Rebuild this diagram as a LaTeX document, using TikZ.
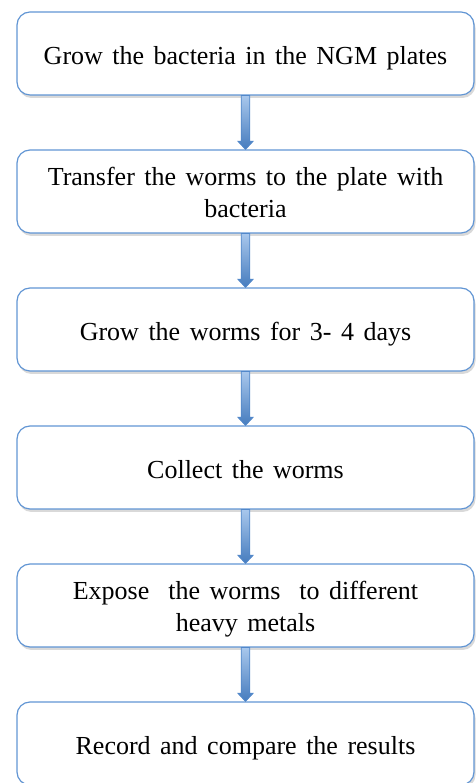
\documentclass[tikz,border=0pt]{standalone}
\usepackage{fontspec}
\setmainfont{Liberation Serif}
\usepackage{tikz}
\usetikzlibrary{calc,shadows}

\definecolor{boxblue}{RGB}{98,150,212}
\definecolor{arrowlight}{RGB}{168,199,236}
\definecolor{arrowdark}{RGB}{70,124,190}
\definecolor{arrowline}{RGB}{82,136,202}

\tikzset{
 stepbox/.style={draw=boxblue, line width=1.2pt, fill=white, rounded corners=13pt,
  minimum width=457pt, minimum height=83pt, text width=440pt, align=center,
  inner sep=0pt, font=\fontsize{26}{31.5}\selectfont,
  execute at begin node={\spaceskip=9.5pt\relax},
  drop shadow={shadow xshift=1.5pt, shadow yshift=-3pt, opacity=0.25, fill=black!60}},
 oneline/.style={text height=28pt, text depth=6pt},
 twoline/.style={text height=27pt, text depth=38pt},
 flowarrow/.style={draw=arrowline, line width=0.8pt, top color=arrowlight, bottom color=arrowdark}
}

% block arrow from the bottom of one box to the top of the next
\newcommand{\flowto}[2]{%
 \path[flowarrow] ($(#1.south)+(-4.3,0)$) -- ($(#2.north)+(-4.3,8)$) -- ($(#2.north)+(-7.5,8)$)
  -- (#2.north) -- ($(#2.north)+(7.5,8)$) -- ($(#2.north)+(4.3,8)$) -- ($(#1.south)+(4.3,0)$) -- cycle;}

\begin{document}
\begin{tikzpicture}[x=1pt,y=1pt]
 \useasboundingbox (0,0) rectangle (475,783);

 \node[stepbox,oneline] (S1) at (245.5,729.5) {Grow the bacteria in the NGM plates};
 \node[stepbox,twoline] (S2) at (245.5,591.5) {Transfer the worms to the plate with\\ bacteria};
 \node[stepbox,oneline] (S3) at (245.5,453.5) {Grow the worms for 3- 4 days};
 \node[stepbox,oneline] (S4) at (245.5,315.5) {Collect the worms};
 \node[stepbox,twoline] (S5) at (245.5,177.5) {Expose\ \ the worms\ \ to different\\ heavy metals};
 \node[stepbox,oneline] (S6) at (245.5,39.5) {Record and compare the results};

 \flowto{S1}{S2}
 \flowto{S2}{S3}
 \flowto{S3}{S4}
 \flowto{S4}{S5}
 \flowto{S5}{S6}
\end{tikzpicture}
\end{document}
